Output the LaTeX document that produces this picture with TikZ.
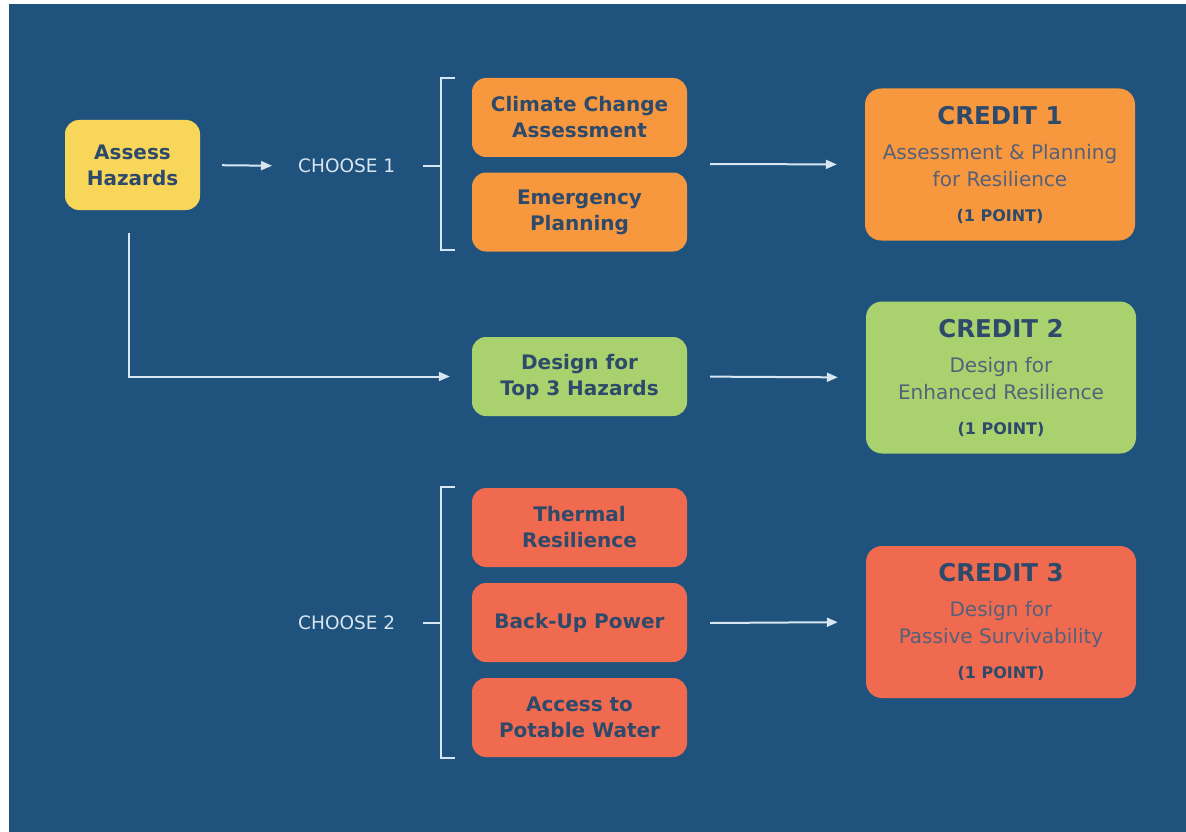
\documentclass[tikz,border=0pt]{standalone}
\usepackage{fontspec}
\setmainfont{DejaVu Sans}
\usetikzlibrary{arrows.meta}
\definecolor{bg}{HTML}{1F527D}
\definecolor{yel}{HTML}{F8D65A}
\definecolor{org}{HTML}{F7983F}
\definecolor{grn}{HTML}{A9D26E}
\definecolor{cor}{HTML}{F06A50}
\definecolor{ink}{HTML}{2E4A6B}
\definecolor{sub}{HTML}{55607A}
\definecolor{ln}{HTML}{D8E6F2}
\tikzset{
  box/.style={rectangle, rounded corners=14pt, minimum width=215pt, minimum height=79pt,
    inner sep=0pt, align=center, text=ink, font=\fontsize{20}{26}\selectfont\bfseries},
  credit/.style={rectangle, rounded corners=16pt, minimum width=270pt, minimum height=152pt,
    inner sep=0pt, align=center, text=sub, font=\fontsize{20}{27}\selectfont},
  lbl/.style={inner sep=0pt, text=ln, font=\fontsize{18.5}{22}\selectfont},
  conn/.style={draw=ln, line width=2pt},
  arr/.style={conn, -{Triangle[length=11pt,width=9pt]}},
}
\newcommand{\crtitle}[1]{{\fontsize{24.5}{28}\selectfont\bfseries\color{ink}#1}}
\newcommand{\crpoint}{{\fontsize{16}{18}\selectfont\bfseries\color{ink}(1 POINT)}}
\begin{document}
\begin{tikzpicture}[x=1pt,y=-1pt]
\fill[white] (0,0) rectangle (1186,832);
\useasboundingbox (0,0) rectangle (1186,832);
\fill[bg] (9,4) rectangle (1186,832);

\node[box, fill=yel, minimum width=135pt, minimum height=90pt] (AH) at (132.5,165) {Assess\\Hazards};
\node[lbl, anchor=west] (ch1) at (298,166) {CHOOSE 1};
\node[lbl, anchor=west] (ch2) at (298,623) {CHOOSE 2};

\node[box, fill=org] (CC) at (579.5,117.5) {Climate Change\\Assessment};
\node[box, fill=org] (EP) at (579.5,212) {Emergency\\Planning};
\node[box, fill=grn] (D3) at (579.5,376.5) {Design for\\Top 3 Hazards};
\node[box, fill=cor] (TR) at (579.5,527.5) {Thermal\\Resilience};
\node[box, fill=cor] (BU) at (579.5,622.5) {Back-Up Power};
\node[box, fill=cor] (AW) at (579.5,717.5) {Access to\\Potable Water};

\node[credit, fill=org] (C1) at (1000,164.5) {\crtitle{CREDIT 1}\\[8pt]
  Assessment \& Planning\\for Resilience\\[8pt]\crpoint};
\node[credit, fill=grn] (C2) at (1001,377.5) {\crtitle{CREDIT 2}\\[8pt]
  Design for\\Enhanced Resilience\\[8pt]\crpoint};
\node[credit, fill=cor] (C3) at (1001,622) {\crtitle{CREDIT 3}\\[8pt]
  Design for\\Passive Survivability\\[8pt]\crpoint};

% brackets
\coordinate (b1) at (441,166);
\coordinate (b2) at (441,623);
\coordinate (o1) at (710,164);
\coordinate (o3) at (710,623);
\draw[conn] ([xshift=-18pt]b1) -- (b1);
\draw[conn] (455,78) -- (441,78) -- (441,250) -- (455,250);
\draw[conn] ([xshift=-18pt]b2) -- (b2);
\draw[conn] (455,487) -- (441,487) -- (441,758) -- (455,758);

% arrows
\draw[arr, shorten <=22pt, shorten >=26pt] (AH.east) -- (ch1.west);
\draw[arr, shorten >=28pt] (o1) -- (C1.west);
\draw[arr, shorten <=23pt, shorten >=22pt] ([xshift=-3.5pt]AH.south) |- (D3.west);
\draw[arr, shorten <=23pt, shorten >=28pt] (D3.east) -- (C2.west);
\draw[arr, shorten >=28pt] (o3) -- (C3.west);
\end{tikzpicture}
\end{document}
